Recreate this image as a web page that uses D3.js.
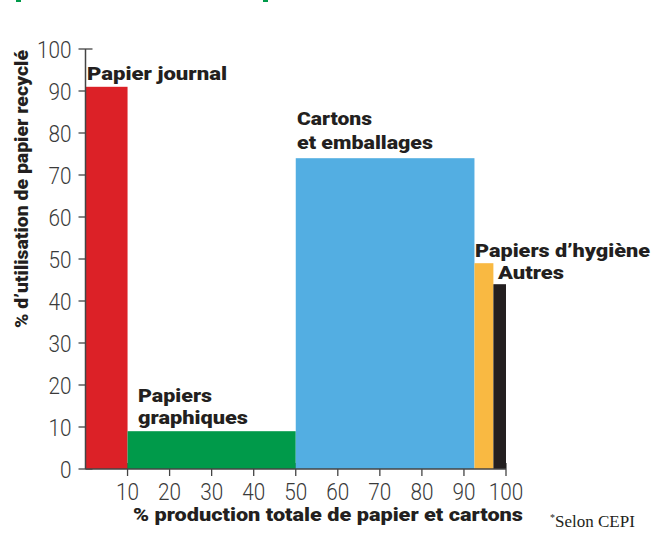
<!DOCTYPE html>
<html lang="fr">
<head>
    <meta charset="UTF-8">
    <style>
        body { margin: 0; background: #fff; }
        svg { display: block; }
        .tick-label { font-family: Roboto, sans-serif; font-weight: 300; font-size: 23px; fill: #3a3a3a; }
        .bar-label { font-family: Roboto, sans-serif; font-weight: 900; font-size: 18px; fill: #231f20; }
        .axis-title { font-family: Roboto, sans-serif; font-weight: 900; font-size: 18px; fill: #231f20; }
    </style>
    <script src="https://d3js.org/d3.v7.min.js"></script>
</head>
<body>
    <div id="chart"></div>
    <script>
        // categories, share of total production (width) and recycled-paper use (height)
        var categories = ["Papier journal", "Papiers graphiques", "Cartons et emballages", "Papiers d’hygiène", "Autres"];
        var production = [10, 40, 42.5, 4.5, 3];
        var recycled = [91, 9, 74, 49, 44];
        var colors = ["#dc2127", "#009a4a", "#53aee2", "#f9b942", "#231f20"];
        var labelLines = [["Papier journal"], ["Papiers", "graphiques"], ["Cartons", "et emballages"], ["Papiers d’hygiène"], ["Autres"]];
        var xTicks = [10, 20, 30, 40, 50, 60, 70, 80, 90, 100];
        var yTicks = [0, 10, 20, 30, 40, 50, 60, 70, 80, 90, 100];

        var W = 660, H = 547;
        var x = d3.scaleLinear().domain([0, 100]).range([85.5, 506]);
        var y = d3.scaleLinear().domain([0, 100]).range([469, 49]);

        var svg = d3.select("#chart").append("svg")
            .attr("width", W).attr("height", H);

        // bits of the cut-off title above the chart
        svg.append("rect").attr("x", 16).attr("y", 0).attr("width", 5).attr("height", 2).attr("fill", "#009a4a");
        svg.append("rect").attr("x", 263).attr("y", 0).attr("width", 5).attr("height", 2).attr("fill", "#009a4a");

        // cumulative start of each bar
        var data = [];
        var acc = 0;
        categories.forEach(function (c, i) {
            data.push({ name: c, x0: acc, x1: acc + production[i], v: recycled[i], color: colors[i], lines: labelLines[i] });
            acc += production[i];
        });

        // y ticks (drawn under bars, crossing the axis)
        svg.selectAll(".ytick").data(yTicks).enter().append("line")
            .attr("x1", x(0) - 7).attr("x2", x(0) + 7)
            .attr("y1", function (d) { return y(d); }).attr("y2", function (d) { return y(d); })
            .attr("stroke", "#444").attr("stroke-width", 1.3);

        svg.selectAll(".xtick").data(xTicks).enter().append("line")
            .attr("x1", function (d) { return x(d); }).attr("x2", function (d) { return x(d); })
            .attr("y1", y(0) - 6).attr("y2", y(0) + 7)
            .attr("stroke", "#444").attr("stroke-width", 1.3);

        svg.selectAll(".bar").data(data).enter().append("rect")
            .attr("x", function (d) { return x(d.x0); })
            .attr("width", function (d) { return x(d.x1) - x(d.x0); })
            .attr("y", function (d) { return y(d.v); })
            .attr("height", function (d) { return y(0) - y(d.v); })
            .attr("fill", function (d) { return d.color; });

        // axis lines
        svg.append("line").attr("x1", x(0)).attr("x2", x(0)).attr("y1", y(0)).attr("y2", y(100))
            .attr("stroke", "#444").attr("stroke-width", 1.5);
        svg.append("line").attr("x1", x(0)).attr("x2", x(100)).attr("y1", y(0)).attr("y2", y(0))
            .attr("stroke", "#444").attr("stroke-width", 1.5);

        // tick labels
        svg.selectAll(".ylab").data(yTicks).enter().append("text")
            .attr("class", "tick-label")
            .attr("x", x(0) - 14)
            .attr("y", function (d) { return y(d) + 8.5; })
            .attr("text-anchor", "end")
            .attr("textLength", function (d) { return String(d).length * 11.5; })
            .attr("lengthAdjust", "spacingAndGlyphs")
            .text(function (d) { return d; });

        svg.selectAll(".xlab").data(xTicks).enter().append("text")
            .attr("class", "tick-label")
            .attr("x", function (d) { return x(d); })
            .attr("y", 500)
            .attr("text-anchor", "middle")
            .attr("textLength", function (d) { return String(d).length * 11.5; })
            .attr("lengthAdjust", "spacingAndGlyphs")
            .text(function (d) { return d; });

        // bar labels: [left x, first baseline, line gap, widths]
        var labelPos = [
            { x: 87, y: 80, gap: 0, w: [140] },
            { x: 138, y: 402, gap: 22, w: [74, 110] },
            { x: 297, y: 125, gap: 24, w: [75, 136] },
            { x: 475, y: 257, gap: 0, w: [175] },
            { x: 498, y: 279, gap: 0, w: [66] }
        ];
        data.forEach(function (d, i) {
            var p = labelPos[i];
            d.lines.forEach(function (line, j) {
                svg.append("text").attr("class", "bar-label")
                    .attr("x", p.x).attr("y", p.y + j * p.gap)
                    .attr("textLength", p.w[j]).attr("lengthAdjust", "spacingAndGlyphs")
                    .text(line);
            });
        });

        // axis titles
        svg.append("text").attr("class", "axis-title")
            .attr("x", 133).attr("y", 521)
            .attr("textLength", 390).attr("lengthAdjust", "spacingAndGlyphs")
            .text("% production totale de papier et cartons");

        svg.append("text").attr("class", "axis-title")
            .attr("transform", "translate(28,328) rotate(-90)")
            .attr("textLength", 278).attr("lengthAdjust", "spacingAndGlyphs")
            .text("% d’utilisation de papier recyclé");

        // source note
        var note = svg.append("text")
            .attr("x", 550).attr("y", 527)
            .style("font-family", "'Liberation Serif', serif")
            .style("font-size", "17px")
            .attr("fill", "#231f20");
        note.append("tspan").attr("font-size", "10px").attr("dy", -6).text("*");
        note.append("tspan").attr("dy", 6).text("Selon CEPI");
    </script>
</body>
</html>
